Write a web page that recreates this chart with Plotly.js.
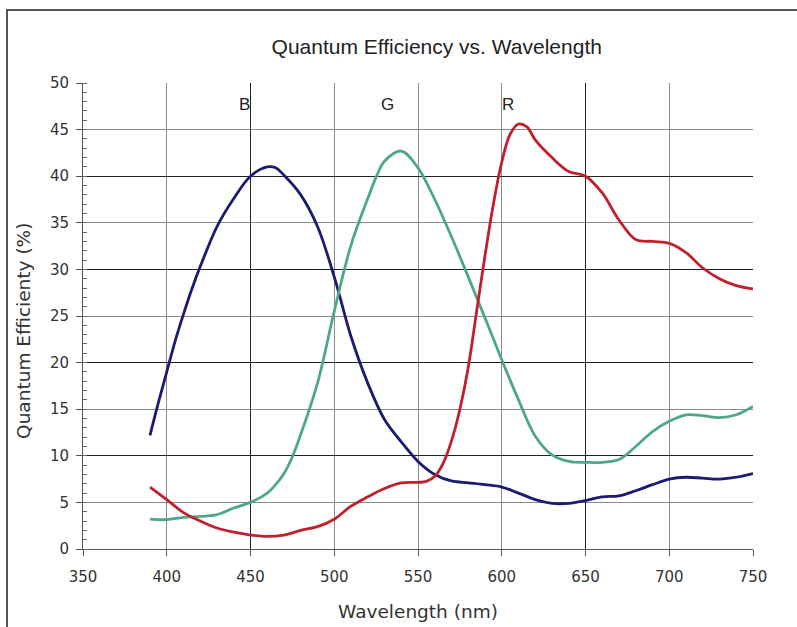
<!DOCTYPE html>
<html>
<head>
<meta charset="utf-8">
<script src="https://cdn.plot.ly/plotly-3.0.1.min.js"></script>
<style>
  html, body { margin: 0; padding: 0; background: #fff; }
  #wrap { position: relative; width: 797px; height: 627px; overflow: hidden; }
  #chart { position: absolute; left: 0; top: 0; width: 797px; height: 627px; }
  #frame { position: absolute; left: 6px; top: 9px; width: 820px; height: 700px;
           border-top: 2px solid #555; border-left: 2px solid #555; pointer-events: none; }
</style>
</head>
<body>
<div id="wrap"><div id="chart"></div><div id="frame"></div></div>
<script>
// Blue channel
const wlBlue = [390,395,400,405,410,415,420,430,440,450,460,465,470,480,490,500,510,520,530,540,550,560,570,580,590,600,610,620,630,640,650,660,670,680,690,700,710,720,730,740,750];
const qeBlue = [12.2,15.7,19.0,22.3,25.2,27.9,30.3,34.6,37.6,40.0,41.0,40.9,40.1,38.0,34.6,29.2,22.8,17.8,13.9,11.5,9.4,8.0,7.3,7.1,6.9,6.65,6.0,5.3,4.9,4.9,5.2,5.6,5.7,6.25,6.9,7.5,7.7,7.6,7.5,7.7,8.1];

// Green channel
const wlGreen = [390,400,410,420,430,440,450,460,465,470,475,480,490,500,510,520,525,530,540,550,560,570,580,590,600,610,620,630,640,650,660,670,680,690,700,710,720,730,740,750];
const qeGreen = [3.2,3.15,3.4,3.5,3.7,4.4,5.0,6.0,6.9,8.1,9.9,12.3,17.8,25.5,32.6,37.6,39.9,41.6,42.7,40.9,37.5,33.5,29.2,24.8,20.3,16.0,12.1,10.1,9.4,9.3,9.3,9.6,11.0,12.6,13.7,14.4,14.3,14.1,14.4,15.3];

// Red channel
const wlRed = [390,400,410,420,430,440,450,460,470,480,490,500,510,520,530,540,550,555,560,565,570,575,580,585,590,595,600,605,610,615,620,630,640,650,660,670,680,690,700,710,720,730,740,750];
const qeRed = [6.65,5.3,3.9,3.0,2.25,1.8,1.5,1.35,1.5,2.0,2.4,3.2,4.6,5.6,6.5,7.1,7.15,7.25,7.8,9.2,11.6,15.0,19.5,25.5,31.5,37.0,41.5,44.5,45.6,45.3,43.9,42.0,40.5,40.0,38.2,35.3,33.2,33.0,32.8,31.8,30.15,29.0,28.25,27.9];

// Text
const titleText = 'Quantum Efficiency vs. Wavelength';
const xTitle = 'Wavelength (nm)';
const yTitle = 'Quantum Efficienty (%)';
const channelLabels = ['B', 'G', 'R'];
const labelWl = [446.5, 531.5, 603.5];
const labelQe = [47.7, 47.7, 47.7];

const xTicks = [350,400,450,500,550,600,650,700,750];
const yTicks = [0,5,10,15,20,25,30,35,40,45,50];

const mk = (x, y, color) => ({
  type: 'scatter', mode: 'lines', x: x, y: y,
  line: { color: color, width: 2.8, shape: 'spline', smoothing: 1 },
  hoverinfo: 'skip', showlegend: false
});

const traces = [
  { type: 'scatter', mode: 'none', x: [350], y: [0], xaxis: 'x2', yaxis: 'y2',
    hoverinfo: 'skip', showlegend: false },
  mk(wlBlue, qeBlue, '#1b1b72'),
  mk(wlGreen, qeGreen, '#4ea78b'),
  mk(wlRed, qeRed, '#c21f2d')
];

const tickFont = { family: 'DejaVu Sans', size: 15, color: '#333' };

const layout = {
  width: 797, height: 627,
  margin: { l: 83, r: 44, t: 83, b: 78 },
  paper_bgcolor: '#fff', plot_bgcolor: '#fff',
  title: { text: titleText, x: 0.548, xanchor: 'center', y: 0.925, yanchor: 'middle',
           font: { family: 'Liberation Sans', size: 21, color: '#222' } },
  showlegend: false,
  xaxis: {
    range: [350, 750], tickvals: xTicks, ticktext: xTicks.map(String),
    showgrid: true, gridcolor: '#8a8a8a', gridwidth: 1,
    showline: true, linecolor: '#555', linewidth: 1,
    ticks: 'outside', ticklen: 6, tickcolor: '#555', tickwidth: 1,
    tickfont: tickFont, ticklabelstandoff: 8, zeroline: false,
    title: { text: xTitle, standoff: 20, font: { family: 'DejaVu Sans', size: 18.5, color: '#333' } }
  },
  yaxis: {
    range: [0, 50], tickvals: yTicks, ticktext: yTicks.map(String),
    showgrid: true, gridcolor: '#8a8a8a', gridwidth: 1,
    showline: true, linecolor: '#555', linewidth: 1,
    ticks: 'outside', ticklen: 6, tickcolor: '#555', tickwidth: 1,
    minor: { dtick: 1, ticks: 'inside', ticklen: 4, tickcolor: '#666', showgrid: false },
    tickfont: tickFont, ticklabelstandoff: 4, zeroline: false
  },
  xaxis2: {
    overlaying: 'x', range: [350, 750], tickvals: [450, 650], showticklabels: false,
    ticks: '', showgrid: true, gridcolor: '#222', gridwidth: 1, zeroline: false, showline: false
  },
  yaxis2: {
    overlaying: 'y', range: [0, 50], tickvals: [10, 20, 30, 40], showticklabels: false,
    ticks: '', showgrid: true, gridcolor: '#222', gridwidth: 1, zeroline: false, showline: false
  },
  annotations: channelLabels.map((t, i) => ({
    x: labelWl[i], y: labelQe[i], xref: 'x', yref: 'y', text: t, showarrow: false,
    font: { family: 'Liberation Sans', size: 17, color: '#222' }
  })).concat([{
    text: yTitle, textangle: -90, showarrow: false,
    xref: 'paper', yref: 'paper', x: 0, y: 0.468, xanchor: 'center', yanchor: 'middle',
    xshift: -59, font: { family: 'DejaVu Sans', size: 18.5, color: '#333' }
  }])
};

Plotly.newPlot('chart', traces, layout, { staticPlot: true, displayModeBar: false });
</script>
</body>
</html>
